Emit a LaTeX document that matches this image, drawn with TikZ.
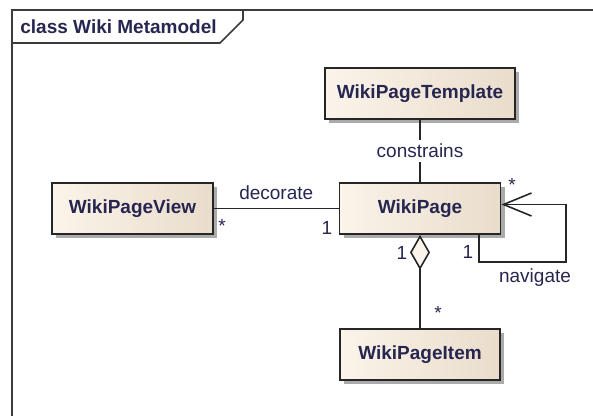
\documentclass[tikz,border=0pt]{standalone}
\usepackage{fontspec}
\setmainfont{Liberation Sans}
\usetikzlibrary{arrows.meta}
\definecolor{boxlight}{HTML}{FBF4EA}
\definecolor{boxdark}{HTML}{E9DCCB}
\definecolor{framegray}{HTML}{3C3C3C}
\definecolor{labelnavy}{HTML}{262650}
\definecolor{shadowgray}{HTML}{ABABAB}
\tikzset{
  classbox/.style={draw=black!85, line width=0.9pt, left color=boxlight, right color=boxdark,
    preaction={fill=shadowgray, draw=none, transform canvas={shift={(2.2pt,-2.2pt)}}},
    font=\fontsize{9.5}{11}\selectfont\bfseries, text=labelnavy, inner sep=0pt,
    minimum height=25.5pt},
  assoc/.style={draw=black!85, line width=0.8pt},
  mult/.style={font=\fontsize{9.5}{11}\selectfont, text=labelnavy, inner sep=0pt}
}
\begin{document}
\begin{tikzpicture}[x=0.5pt,y=-0.5pt]
\useasboundingbox (0,0) rectangle (593,416);
% frame and its tab
\draw[framegray,line width=0.8pt] (12,416) -- (12,10) -- (593,10);
\draw[framegray,line width=0.8pt] (12,43) -- (220,43) -- (243,20) -- (243,10);
\node[mult,font=\fontsize{9.5}{11}\selectfont\bfseries,anchor=west] (title) at (20,27) {class Wiki Metamodel};

% classes
\node[classbox,minimum width=95pt] (tmpl) at (420,93.5) {WikiPageTemplate};
\node[classbox,minimum width=80.5pt] (page) at (420,208.5) {WikiPage};
\node[classbox,minimum width=80.5pt] (view) at (132.5,208.5) {WikiPageView};
\node[classbox,minimum width=80pt] (item) at (420,354.5) {WikiPageItem};

% constrains
\draw[assoc] (tmpl) -- node[mult,fill=white,inner sep=2pt] (constrains) {constrains} (page);

% decorate
\draw[assoc] (view) -- node[mult,above=4pt] (decorate) {decorate} (page);
\node[mult] (viewmult) at (222,226) {*};
\node[mult] (pagemult) at (327,228) {1};

% aggregation
\draw[assoc,{Diamond[length=17.5pt,width=10pt,fill=boxlight]}-] (page) -- (item);
\node[mult] (aggone) at (402,253) {1};
\node[mult] (aggmany) at (438,313) {*};

% navigate
\coordinate (navloop) at (566,262);
\draw[assoc,-{Straight Barb[length=14pt,width=11.5pt]}] ([xshift=29.5pt]page.south) |- (navloop) |- ([yshift=2pt]page.east);
\node[mult] (navone) at (468,252) {1};
\node[mult] (navmany) at (512,185) {*};
\node[mult] (navigate) at (535,278) {navigate};
\end{tikzpicture}
\end{document}
